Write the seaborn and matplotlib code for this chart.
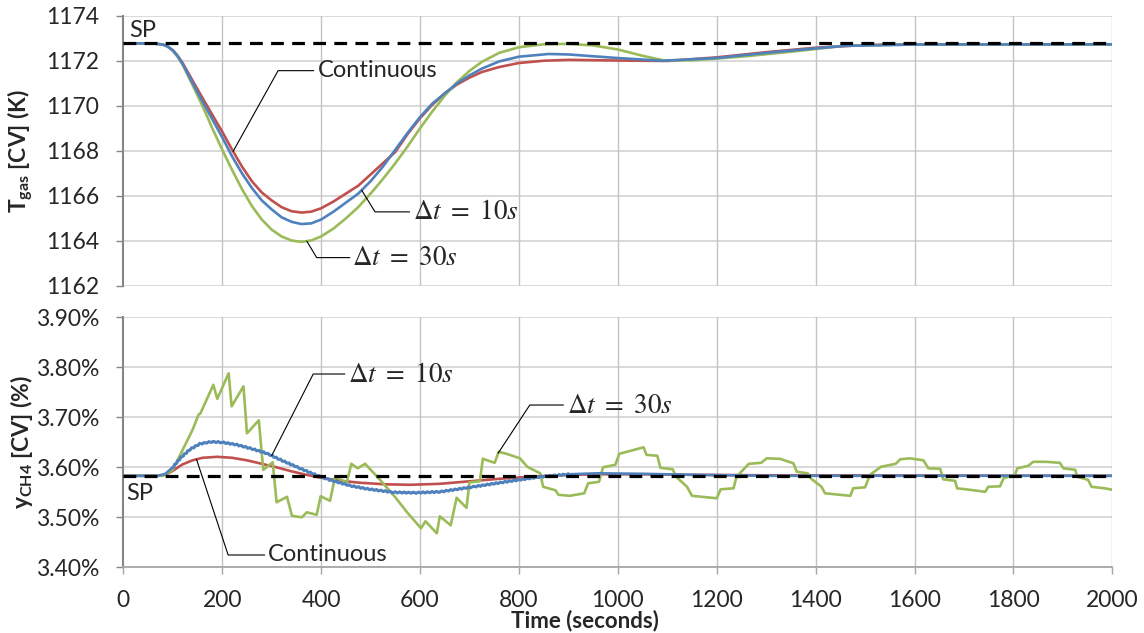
import numpy as np
import pandas as pd
import matplotlib
matplotlib.use("Agg")
import matplotlib.pyplot as plt
import seaborn as sns

# ---------------- data ----------------
sp_temp = 1172.77          # setpoint, gas temperature (K)
sp_ch4 = 3.583             # setpoint, CH4 fraction (%)

# Gas temperature, continuous control
t_temp_cont = [0, 60, 80, 90, 100, 110, 120, 140, 160, 180, 200, 220, 240, 260, 280, 300, 320,
               340, 360, 380, 400, 425, 450, 475, 500, 525, 550, 575, 600, 625, 650, 675, 700,
               725, 760, 800, 850, 900, 1000, 1100, 1200, 1300, 1400, 1500, 1600, 2000]
temp_cont = [1172.77, 1172.77, 1172.72, 1172.63, 1172.47, 1172.22, 1171.9, 1171.12, 1170.35,
             1169.6, 1168.85, 1168.05, 1167.3, 1166.65, 1166.15, 1165.8, 1165.5, 1165.32,
             1165.26, 1165.3, 1165.45, 1165.75, 1166.1, 1166.45, 1166.95, 1167.45, 1167.95,
             1168.75, 1169.45, 1170.05, 1170.55, 1170.95, 1171.25, 1171.5, 1171.72, 1171.9,
             1172.0, 1172.04, 1172.01, 1171.99, 1172.15, 1172.38, 1172.58, 1172.7, 1172.73,
             1172.73]

# Gas temperature, sampled control dt = 10 s
t_temp_10 = [0, 60, 80, 90, 100, 110, 120, 140, 160, 180, 200, 220, 240, 260, 280, 300, 320, 340,
             360, 380, 400, 425, 450, 475, 500, 525, 550, 575, 600, 625, 650, 675, 700, 725, 760,
             800, 860, 900, 1000, 1090, 1200, 1300, 1400, 1460, 1600, 2000]
temp_10 = [1172.77, 1172.77, 1172.72, 1172.63, 1172.46, 1172.2, 1171.86, 1171.02, 1170.2,
           1169.4, 1168.6, 1167.75, 1167.0, 1166.35, 1165.8, 1165.4, 1165.05, 1164.85, 1164.75,
           1164.78, 1164.95, 1165.3, 1165.7, 1166.1, 1166.65, 1167.3, 1168.05, 1168.8, 1169.5,
           1170.1, 1170.55, 1171.0, 1171.35, 1171.65, 1171.97, 1172.18, 1172.3, 1172.28,
           1172.12, 1172.0, 1172.12, 1172.35, 1172.55, 1172.66, 1172.72, 1172.73]

# Gas temperature, sampled control dt = 30 s
t_temp_30 = [0, 60, 80, 90, 100, 110, 120, 140, 160, 180, 200, 220, 240, 260, 280, 300, 320, 340,
             360, 380, 400, 425, 450, 475, 500, 525, 550, 575, 600, 625, 650, 675, 700, 725, 760,
             800, 850, 900, 950, 1000, 1050, 1092, 1150, 1200, 1260, 1350, 1460, 1600, 2000]
temp_30 = [1172.77, 1172.77, 1172.72, 1172.62, 1172.44, 1172.17, 1171.82, 1170.92, 1170.0,
           1169.0, 1168.05, 1167.15, 1166.3, 1165.55, 1164.95, 1164.5, 1164.2, 1164.02, 1163.96,
           1164.02, 1164.2, 1164.55, 1165.0, 1165.5, 1166.1, 1166.75, 1167.45, 1168.2, 1169.0,
           1169.75, 1170.45, 1171.05, 1171.55, 1171.95, 1172.35, 1172.6, 1172.73, 1172.75,
           1172.68, 1172.5, 1172.22, 1172.02, 1172.02, 1172.1, 1172.2, 1172.4, 1172.67, 1172.72,
           1172.72]

# CH4 fraction (%), continuous control
t_ch4_cont = [0, 70, 85, 100, 120, 140, 160, 190, 220, 250, 280, 310, 340, 370, 400, 440, 480,
              530, 580, 640, 700, 760, 820, 880, 950, 1050, 1150, 1300, 2000]
ch4_cont = [3.583, 3.583, 3.585, 3.593, 3.606, 3.614, 3.619, 3.621, 3.619, 3.614, 3.607, 3.600,
            3.592, 3.585, 3.579, 3.573, 3.569, 3.566, 3.565, 3.567, 3.572, 3.577, 3.581, 3.584,
            3.586, 3.586, 3.585, 3.584, 3.583]

# CH4 fraction (%), sampled control dt = 10 s
t_ch4_10 = [0, 70, 85, 100, 115, 135, 155, 178, 200, 230, 260, 290, 320, 357, 391, 420, 460, 492,
            546, 590, 640, 708, 780, 843, 900, 960, 1050, 1150, 1300, 2000]
ch4_10 = [3.583, 3.583, 3.587, 3.600, 3.618, 3.636, 3.647, 3.651, 3.650, 3.645, 3.637, 3.628,
          3.614, 3.598, 3.584, 3.574, 3.563, 3.557, 3.550, 3.549, 3.551, 3.561, 3.572, 3.581,
          3.586, 3.588, 3.587, 3.585, 3.583, 3.583]

# CH4 fraction (%), sampled control dt = 30 s
t_ch4_30 = [0, 80, 100, 121, 140, 152, 156, 182, 190, 213, 219, 243, 250, 274, 283, 302, 310,
            331, 341, 361, 371, 391, 399, 418, 428, 452, 461, 474, 489, 520, 550, 573, 602, 611,
            634, 640, 662, 674, 694, 700, 721, 727, 751, 759, 775, 802, 817, 843, 849, 874, 880,
            903, 932, 940, 962, 970, 995, 1003, 1052, 1058, 1080, 1086, 1111, 1118, 1140, 1150,
            1200, 1208, 1234, 1240, 1265, 1290, 1301, 1328, 1355, 1362, 1384, 1390, 1412, 1419,
            1470, 1476, 1500, 1510, 1532, 1562, 1571, 1590, 1618, 1628, 1652, 1658, 1682, 1686,
            1712, 1743, 1749, 1773, 1780, 1803, 1808, 1830, 1840, 1866, 1894, 1901, 1925, 1929,
            1951, 1958, 1985, 2000]
ch4_30 = [3.583, 3.583, 3.595, 3.637, 3.675, 3.705, 3.708, 3.765, 3.737, 3.788, 3.722, 3.762,
          3.668, 3.694, 3.595, 3.610, 3.530, 3.541, 3.503, 3.500, 3.510, 3.505, 3.542, 3.533,
          3.580, 3.570, 3.607, 3.598, 3.607, 3.574, 3.540, 3.511, 3.478, 3.492, 3.468, 3.502,
          3.484, 3.539, 3.519, 3.570, 3.572, 3.617, 3.609, 3.631, 3.627, 3.618, 3.601, 3.588,
          3.561, 3.554, 3.545, 3.543, 3.548, 3.568, 3.571, 3.600, 3.605, 3.627, 3.640, 3.625,
          3.623, 3.599, 3.596, 3.581, 3.561, 3.543, 3.538, 3.556, 3.558, 3.581, 3.607, 3.609,
          3.618, 3.617, 3.608, 3.591, 3.588, 3.578, 3.561, 3.548, 3.543, 3.558, 3.560, 3.585,
          3.601, 3.607, 3.616, 3.618, 3.614, 3.598, 3.597, 3.576, 3.573, 3.558, 3.555, 3.551,
          3.561, 3.562, 3.578, 3.585, 3.598, 3.603, 3.611, 3.611, 3.609, 3.598, 3.595, 3.581,
          3.575, 3.561, 3.558, 3.555]

temp_ticks = [1162, 1164, 1166, 1168, 1170, 1172, 1174]
ch4_ticks = [3.40, 3.50, 3.60, 3.70, 3.80, 3.90]
time_ticks = [0, 200, 400, 600, 800, 1000, 1200, 1400, 1600, 1800, 2000]

# ---------------- style ----------------
sns.set_style("white")
plt.rcParams["font.family"] = ["Lato", "DejaVu Sans"]
plt.rcParams.update({
    "mathtext.fontset": "custom",
    "mathtext.rm": "Lato",
    "mathtext.bf": "Lato:bold",
    "mathtext.it": "Lato:italic",
})

RED = "#c0504d"
BLUE = "#4f81bd"
GREEN = "#9bbb59"
LW = 1.9
TICK_FS = 16.5
NOTE_FS = 17

fig = plt.figure(figsize=(11.44, 6.33), dpi=100)
ax1 = fig.add_axes([0.1078, 0.5482, 0.8645, 0.4270])
ax2 = fig.add_axes([0.1078, 0.1038, 0.8645, 0.3949])


def style_axes(ax, yticks):
    ax.set_xlim(0, 2000)
    ax.set_xticks(time_ticks)
    ax.set_yticks(yticks)
    ax.set_ylim(yticks[0], yticks[-1])
    ax.grid(False)
    for y in yticks:
        ax.axhline(y, color="#d9d9d9", lw=1.4, zorder=0)
    for x in time_ticks[1:]:
        ax.axvline(x, color="#c3c3c3", lw=1.0, zorder=0)
    for s in ["top", "right", "bottom"]:
        ax.spines[s].set_visible(False)
    ax.spines["left"].set_color("#868686")
    ax.spines["left"].set_linewidth(1.5)
    ax.tick_params(axis="y", direction="out", length=4.8, width=1.0, color="#868686",
                   pad=12.5, labelsize=TICK_FS, left=True)


style_axes(ax1, temp_ticks)
style_axes(ax2, ch4_ticks)
ax1.tick_params(axis="x", bottom=False, labelbottom=False)
ax2.spines["bottom"].set_visible(True)
ax2.spines["bottom"].set_color("#a6a6a6")
ax2.spines["bottom"].set_linewidth(1.3)
ax2.tick_params(axis="x", direction="out", length=5, width=1.0, color="#a6a6a6",
                pad=11.5, labelsize=TICK_FS, bottom=True)
ax2.yaxis.set_major_formatter(matplotlib.ticker.FuncFormatter(lambda v, _: f"{v:.2f}%"))

# ---------------- curves ----------------
sns.lineplot(x=t_temp_cont, y=temp_cont, ax=ax1, color=RED, lw=LW, zorder=3)
sns.lineplot(x=t_temp_30, y=temp_30, ax=ax1, color=GREEN, lw=LW, zorder=3)
sns.lineplot(x=t_temp_10, y=temp_10, ax=ax1, color=BLUE, lw=LW, zorder=3)
ax1.axhline(sp_temp, color="black", lw=2.3, dashes=(4, 2.6), zorder=5)

sns.lineplot(x=t_ch4_cont, y=ch4_cont, ax=ax2, color=RED, lw=LW, zorder=3)
sns.lineplot(x=t_ch4_30, y=ch4_30, ax=ax2, color=GREEN, lw=LW, zorder=3)
sns.lineplot(x=t_ch4_10, y=ch4_10, ax=ax2, color=BLUE, lw=LW, zorder=3)
# the 10 s sampling leaves a fine ripple on the blue trace while it is moving
t10 = np.array(t_ch4_10)
rip = (t10 >= 100) & (t10 <= 900)
sns.lineplot(x=t10[rip], y=np.array(ch4_10)[rip], ax=ax2, color=BLUE, lw=1.5, zorder=3)
ax2.lines[-1].set_sketch_params(scale=1.2, length=4.5, randomness=1.0)
ax2.axhline(sp_ch4, color="black", lw=2.3, dashes=(4, 2.6), zorder=5)

for ax in (ax1, ax2):
    ax.set_xlim(0, 2000)
    if ax.get_legend():
        ax.get_legend().remove()
ax1.set_ylim(1162, 1174)
ax2.set_ylim(3.40, 3.90)

# ---------------- labels ----------------
ax1.set_ylabel(r"$\mathbf{T}_{\mathbf{gas}}$ [CV] (K)", fontsize=16.5, fontweight="bold")
ax1.yaxis.set_label_coords(-0.089, 0.5)
ax2.set_ylabel(r"$\mathbf{y}_{\mathbf{CH4}}$ [CV] (%)", fontsize=16.5, fontweight="bold")
ax2.yaxis.set_label_coords(-0.089, 0.5)
ax2.set_xlabel("Time (seconds)", fontsize=16, fontweight="bold")
ax2.xaxis.set_label_coords(0.467, -0.17)


def leader(ax, label, text_t, text_v, corner_t, anchor_t, series_t, series_v, gap):
    anchor_v = np.interp(anchor_t, series_t, series_v)
    ax.plot([text_t - gap, corner_t, anchor_t], [text_v, text_v, anchor_v],
            color="black", lw=0.8, zorder=6)
    if label.startswith("$"):
        ax.text(text_t, text_v, label, fontsize=19.5, va="center", ha="left",
                math_fontfamily="stix", zorder=7)
    else:
        ax.text(text_t, text_v, label, fontsize=NOTE_FS, va="center", ha="left", zorder=7)


ax1.text(12, 1173.36, "SP", fontsize=NOTE_FS, va="center", ha="left", zorder=7)
leader(ax1, "Continuous", 394, 1171.56, 313, 222, t_temp_cont, temp_cont, 9)
leader(ax1, r"$\Delta t\ =\ 10s$", 586, 1165.29, 509, 482, t_temp_10, temp_10, 7)
leader(ax1, r"$\Delta t\ =\ 30s$", 462, 1163.26, 391, 371, t_temp_30, temp_30, 4)

ax2.text(6, 3.5476, "SP", fontsize=NOTE_FS, va="center", ha="left", zorder=7)
leader(ax2, r"$\Delta t\ =\ 10s$", 455, 3.7866, 384, 300, t_ch4_10, ch4_10, 7)
leader(ax2, "Continuous", 293, 3.4246, 212, 148, t_ch4_cont, ch4_cont, 7)
leader(ax2, r"$\Delta t\ =\ 30s$", 897, 3.7246, 822, 758, t_ch4_30, ch4_30, 7)

fig.savefig("out.png", dpi=100)
